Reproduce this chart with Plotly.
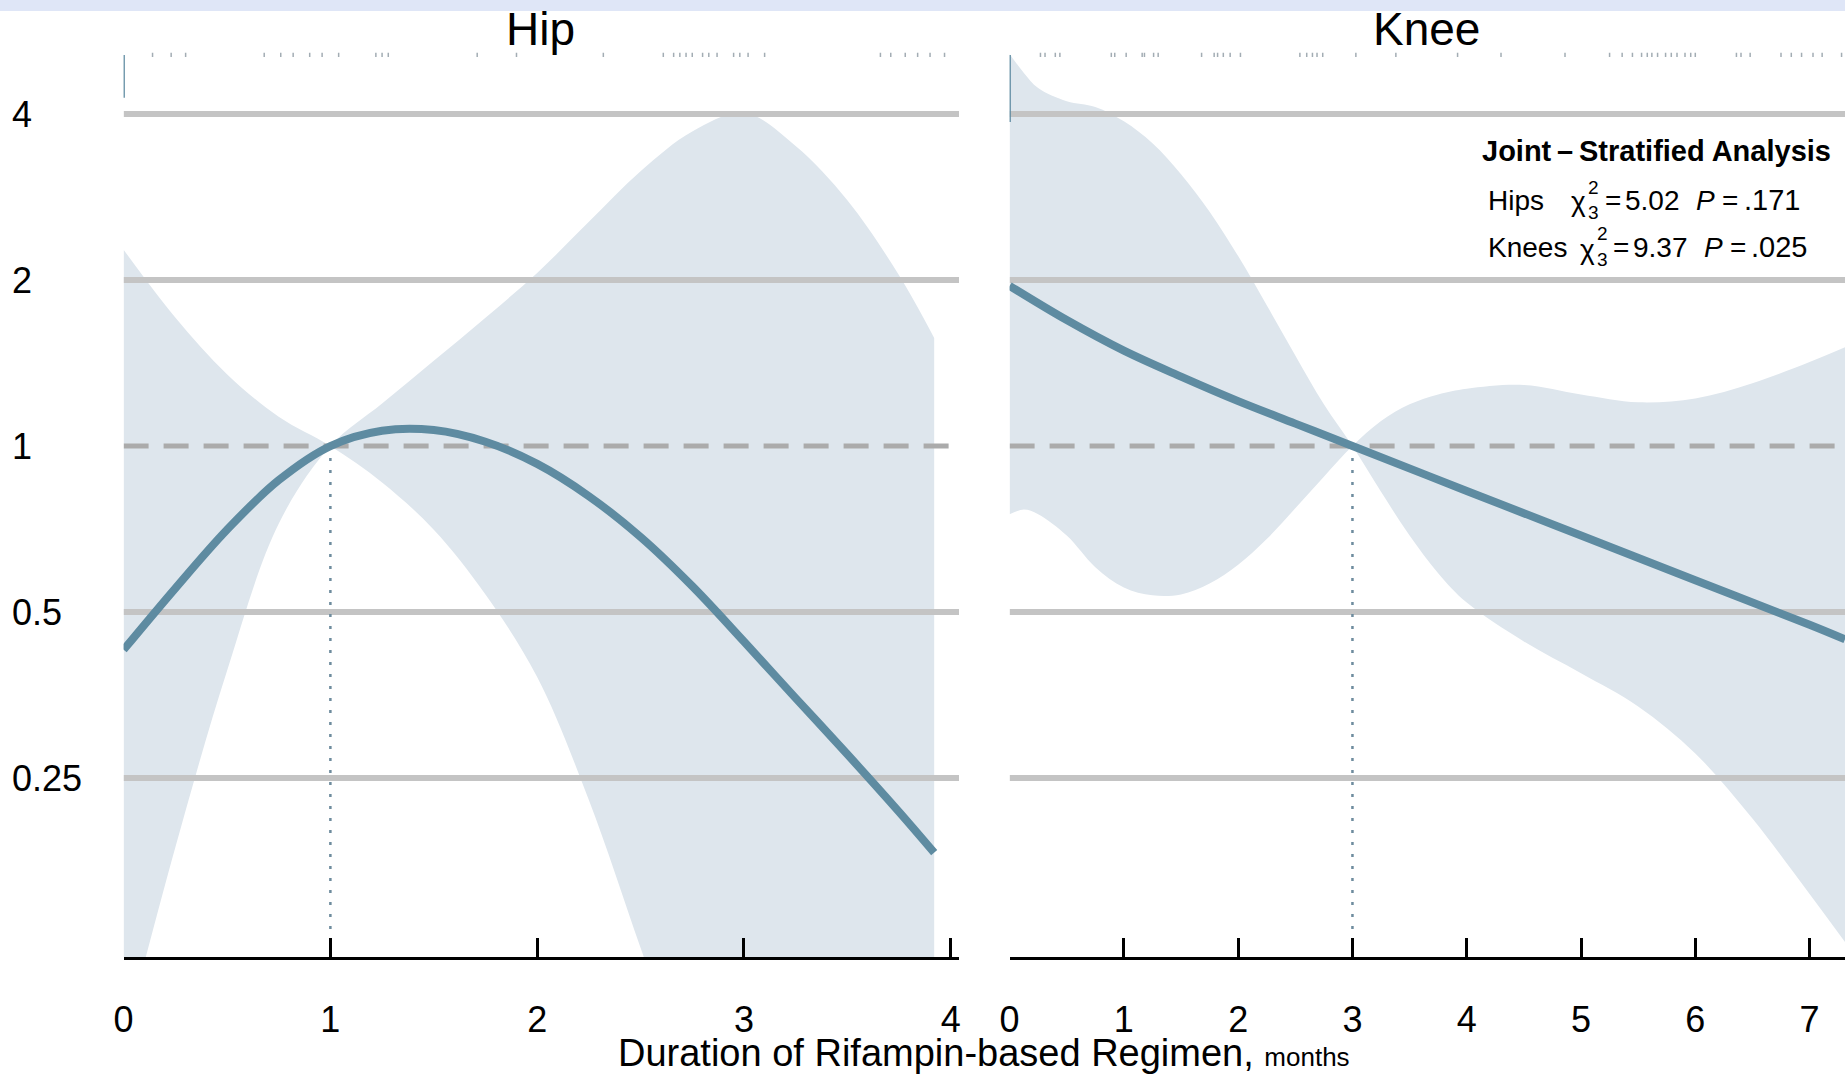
import plotly.graph_objects as go

# ---------------- data ----------------
hip_x = [0, 0.25, 0.5, 0.75, 1.0, 1.25, 1.5, 1.75, 2.0, 2.25, 2.5, 2.75, 3.0, 3.25, 3.5, 3.75, 3.92]
hip_hr = [0.427, 0.552, 0.705, 0.867, 1.0, 1.066, 1.069, 1.018, 0.928, 0.811, 0.684, 0.557, 0.442, 0.349, 0.276, 0.217, 0.183]
hip_upper = [2.27, 1.71, 1.35, 1.13, 1.0, 1.194, 1.427, 1.709, 2.06, 2.55, 3.15, 3.72, 4.02, 3.50, 2.79, 2.04, 1.57]
hip_lower = [0.083, 0.187, 0.391, 0.723, 1.0, 0.859, 0.705, 0.538, 0.381, 0.228, 0.123, 0.0666, 0.0352, 0.0177, 0.0084, 0.0040, 0.0025]

knee_curve_x = [0, 0.5, 1, 1.5, 2, 2.5, 3, 4, 5, 6, 7, 7.31]
knee_hr = [1.952, 1.692, 1.489, 1.336, 1.206, 1.098, 1.0, 0.829, 0.688, 0.571, 0.474, 0.446]

knee_ci_x = [0, 0.125, 0.25, 0.5, 0.75, 1.0, 1.25, 1.5, 1.75, 2.0, 2.25, 2.5, 2.75, 3.0,
             3.25, 3.5, 3.75, 4.0, 4.5, 5.0, 5.5, 6.0, 6.5, 7.0, 7.31]
knee_upper = [5.14, 4.75, 4.46, 4.22, 4.12, 3.88, 3.54, 3.11, 2.66, 2.21, 1.80, 1.46, 1.19, 1.0,
              1.11, 1.19, 1.24, 1.27, 1.29, 1.24, 1.20, 1.22, 1.30, 1.42, 1.51]
knee_lower = [0.752, 0.767, 0.752, 0.688, 0.603, 0.554, 0.536, 0.538, 0.563, 0.609, 0.678, 0.771, 0.880, 1.0,
              0.826, 0.688, 0.588, 0.520, 0.442, 0.387, 0.337, 0.277, 0.211, 0.154, 0.126]

hip_rug = [0.14, 0.23, 0.30, 0.68, 0.76, 0.82, 0.90, 0.96, 1.04, 1.22, 1.25, 1.28, 1.71, 1.90,
           2.32, 2.61, 2.66, 2.69, 2.72, 2.75, 2.80, 2.83, 2.87, 2.95, 2.98, 3.02, 3.10,
           3.66, 3.71, 3.78, 3.84, 3.90, 3.97]
knee_rug = [0.27, 0.31, 0.40, 0.44, 0.89, 0.92, 1.02, 1.16, 1.18, 1.26, 1.30, 1.68, 1.79, 1.82,
            1.87, 1.93, 2.02, 2.54, 2.60, 2.65, 2.69, 2.74, 3.03, 3.38, 3.92, 4.30, 4.86, 5.25,
            5.36, 5.45, 5.53, 5.58, 5.62, 5.67, 5.74, 5.79, 5.84, 5.91, 5.96, 6.00, 6.36, 6.40,
            6.48, 6.75, 6.84, 6.93, 7.03, 7.11, 7.28]
rug_level = 5.12
hip_zero_mark = [4.28, 5.12]
knee_zero_mark = [3.87, 5.12]

hip_ref_x = 1
knee_ref_x = 3
ref_hr = 1

y_tickvals = [0.25, 0.5, 1, 2, 4]
y_ticktext = ["0.25", "0.5", "1", "2", "4"]
grid_vals = [0.25, 0.5, 2, 4]
hip_ticks = [0, 1, 2, 3, 4]
knee_ticks = [0, 1, 2, 3, 4, 5, 6, 7]
hip_xrange = [0, 4.04]
knee_xrange = [0, 7.31]
y_log_range = [-0.9267, 0.7182]
y_bottom = 10 ** y_log_range[0]

panel_titles = ["Hip", "Knee"]
x_title = "Duration of Rifampin-based Regimen,"
x_title_unit = "months"
stats_title = "Joint\u2009\u2013\u2009Stratified Analysis"
stats_rows = [
    ("Hips", "5.02", ".171"),
    ("Knees", "9.37", ".025"),
]

# ---------------- styling ----------------
W, H = 1845, 1074
CURVE = "rgb(94,139,161)"
FILL = "rgb(222,230,237)"
GRID = "#c4c4c4"
DASH = "#ababab"
DOT = "rgb(110,140,158)"
RUG = "#a3adb4"
SANS = "Liberation Sans, Arial, Helvetica, sans-serif"


def px(x):
    return x / W


def py(y):
    return 1 - y / H


def crossing_limits(xs, up, lo, xref):
    """The two confidence limits cross at the reference point: build the two
    smooth limit curves (upper-left/lower-right and lower-left/upper-right)."""
    i = xs.index(xref)
    a = up[:i] + lo[i:]
    b = lo[:i] + up[i:]
    return a, b


fig = go.Figure()

panels = [
    dict(xa="x", ya="y", ci_x=hip_x, up=hip_upper, lo=hip_lower, cx=hip_x, cy=hip_hr,
         rng=hip_xrange, ref=hip_ref_x, rug=hip_rug, zero=hip_zero_mark),
    dict(xa="x2", ya="y2", ci_x=knee_ci_x, up=knee_upper, lo=knee_lower, cx=knee_curve_x, cy=knee_hr,
         rng=knee_xrange, ref=knee_ref_x, rug=knee_rug, zero=knee_zero_mark),
]

for p in panels:
    common = dict(xaxis=p["xa"], yaxis=p["ya"], hoverinfo="skip", showlegend=False)
    lim_a, lim_b = crossing_limits(p["ci_x"], p["up"], p["lo"], p["ref"])
    # confidence band
    fig.add_trace(go.Scatter(x=p["ci_x"], y=lim_b, mode="lines",
                             line=dict(width=0, color=FILL, shape="spline", smoothing=1), **common))
    fig.add_trace(go.Scatter(x=p["ci_x"], y=lim_a, mode="lines", fill="tonexty", fillcolor=FILL,
                             line=dict(width=0, color=FILL, shape="spline", smoothing=1), **common))
    # gridlines
    for g in grid_vals:
        fig.add_trace(go.Scatter(x=p["rng"], y=[g, g], mode="lines",
                                 line=dict(color=GRID, width=6), **common))
    # reference dashed line at HR = 1
    fig.add_trace(go.Scatter(x=p["rng"], y=[ref_hr, ref_hr], mode="lines",
                             line=dict(color=DASH, width=5, dash="25px,15px"), **common))
    # dotted reference drop line
    fig.add_trace(go.Scatter(x=[p["ref"], p["ref"]], y=[ref_hr, y_bottom], mode="lines",
                             line=dict(color=DOT, width=2.5, dash="3px,9px"), **common))
    # fitted curve
    fig.add_trace(go.Scatter(x=p["cx"], y=p["cy"], mode="lines",
                             line=dict(color=CURVE, width=8, shape="spline", smoothing=1), **common))
    # rug
    fig.add_trace(go.Scatter(x=p["rug"], y=[rug_level] * len(p["rug"]), mode="markers",
                             marker=dict(symbol="line-ns", size=3, line=dict(color=RUG, width=1.5)),
                             **common))
    # tall mark at zero
    fig.add_trace(go.Scatter(x=[0, 0], y=p["zero"], mode="lines",
                             line=dict(color=CURVE, width=2.5), **common))

xaxis_common = dict(showgrid=False, zeroline=False, showline=True, linecolor="black", linewidth=3,
                    ticks="inside", ticklen=19, tickwidth=3, tickcolor="black", automargin=False,
                    tickfont=dict(family=SANS, size=36, color="black"), ticklabelstandoff=29)
y_dom = [py(957), py(50)]

fig.update_layout(
    width=W, height=H,
    margin=dict(l=0, r=0, t=0, b=0, autoexpand=False),
    paper_bgcolor="white", plot_bgcolor="white",
    showlegend=False,
    xaxis=dict(domain=[px(123.6), px(959)], range=hip_xrange, anchor="y",
               tickvals=hip_ticks, ticktext=[str(t) for t in hip_ticks], **xaxis_common),
    xaxis2=dict(domain=[px(1009.6), 1.0], range=knee_xrange, anchor="y2",
                tickvals=knee_ticks, ticktext=[str(t) for t in knee_ticks], **xaxis_common),
    yaxis=dict(domain=y_dom, type="log", range=y_log_range, anchor="free", position=px(8),
               showgrid=False, zeroline=False, showline=False, ticks="", automargin=False,
               tickvals=y_tickvals, ticktext=y_ticktext, ticklabelposition="inside",
               tickfont=dict(family=SANS, size=36, color="black")),
    yaxis2=dict(domain=y_dom, type="log", range=y_log_range, anchor="x2", automargin=False,
                showgrid=False, zeroline=False, showline=False, ticks="", showticklabels=False),
)

# top band
fig.add_shape(type="rect", xref="paper", yref="paper", x0=0, x1=1, y0=py(11), y1=1,
              fillcolor="rgb(223,230,247)", line_width=0, layer="above")

ann = []


def text(x, y, s, size, anchor="left", bold=False, italic=False, family=SANS):
    if bold:
        s = "<b>" + s + "</b>"
    if italic:
        s = "<i>" + s + "</i>"
    ann.append(dict(x=px(x), y=py(y), xref="paper", yref="paper", text=s, showarrow=False,
                    xanchor=anchor, yanchor="middle", font=dict(family=family, size=size, color="black")))


# panel titles
text(540, 29, panel_titles[0], 46, anchor="center")
text(1426, 29, panel_titles[1], 46, anchor="center")
# x axis title
ann.append(dict(x=px(984), y=py(1053), xref="paper", yref="paper", showarrow=False,
                xanchor="center", yanchor="middle",
                text=x_title + " <span style='font-size:26px'>" + x_title_unit + "</span>",
                font=dict(family=SANS, size=38, color="black")))

# stats box
text(1480, 151, stats_title, 29, bold=True)
row_layout = [
    dict(y=200, label=1486, chi=1569, ss=1586, eq=1603, num=1623, P=1694, eq2=1720, pv=1742),
    dict(y=247, label=1486, chi=1578, ss=1595, eq=1611, num=1631, P=1702, eq2=1728, pv=1749),
]
for (lab, chi2, pval), L in zip(stats_rows, row_layout):
    y = L["y"]
    text(L["label"], y, lab, 28)
    text(L["chi"], y + 2, "\u03c7", 28)
    text(L["ss"], y - 13, "2", 19)
    text(L["ss"], y + 13, "3", 19)
    text(L["eq"], y, "=", 28)
    text(L["num"], y, chi2, 28)
    text(L["P"], y, "P", 28, italic=True)
    text(L["eq2"], y, "=", 28)
    text(L["pv"], y, pval, 29)

fig.update_layout(annotations=ann)

fig.write_html("out.html")
